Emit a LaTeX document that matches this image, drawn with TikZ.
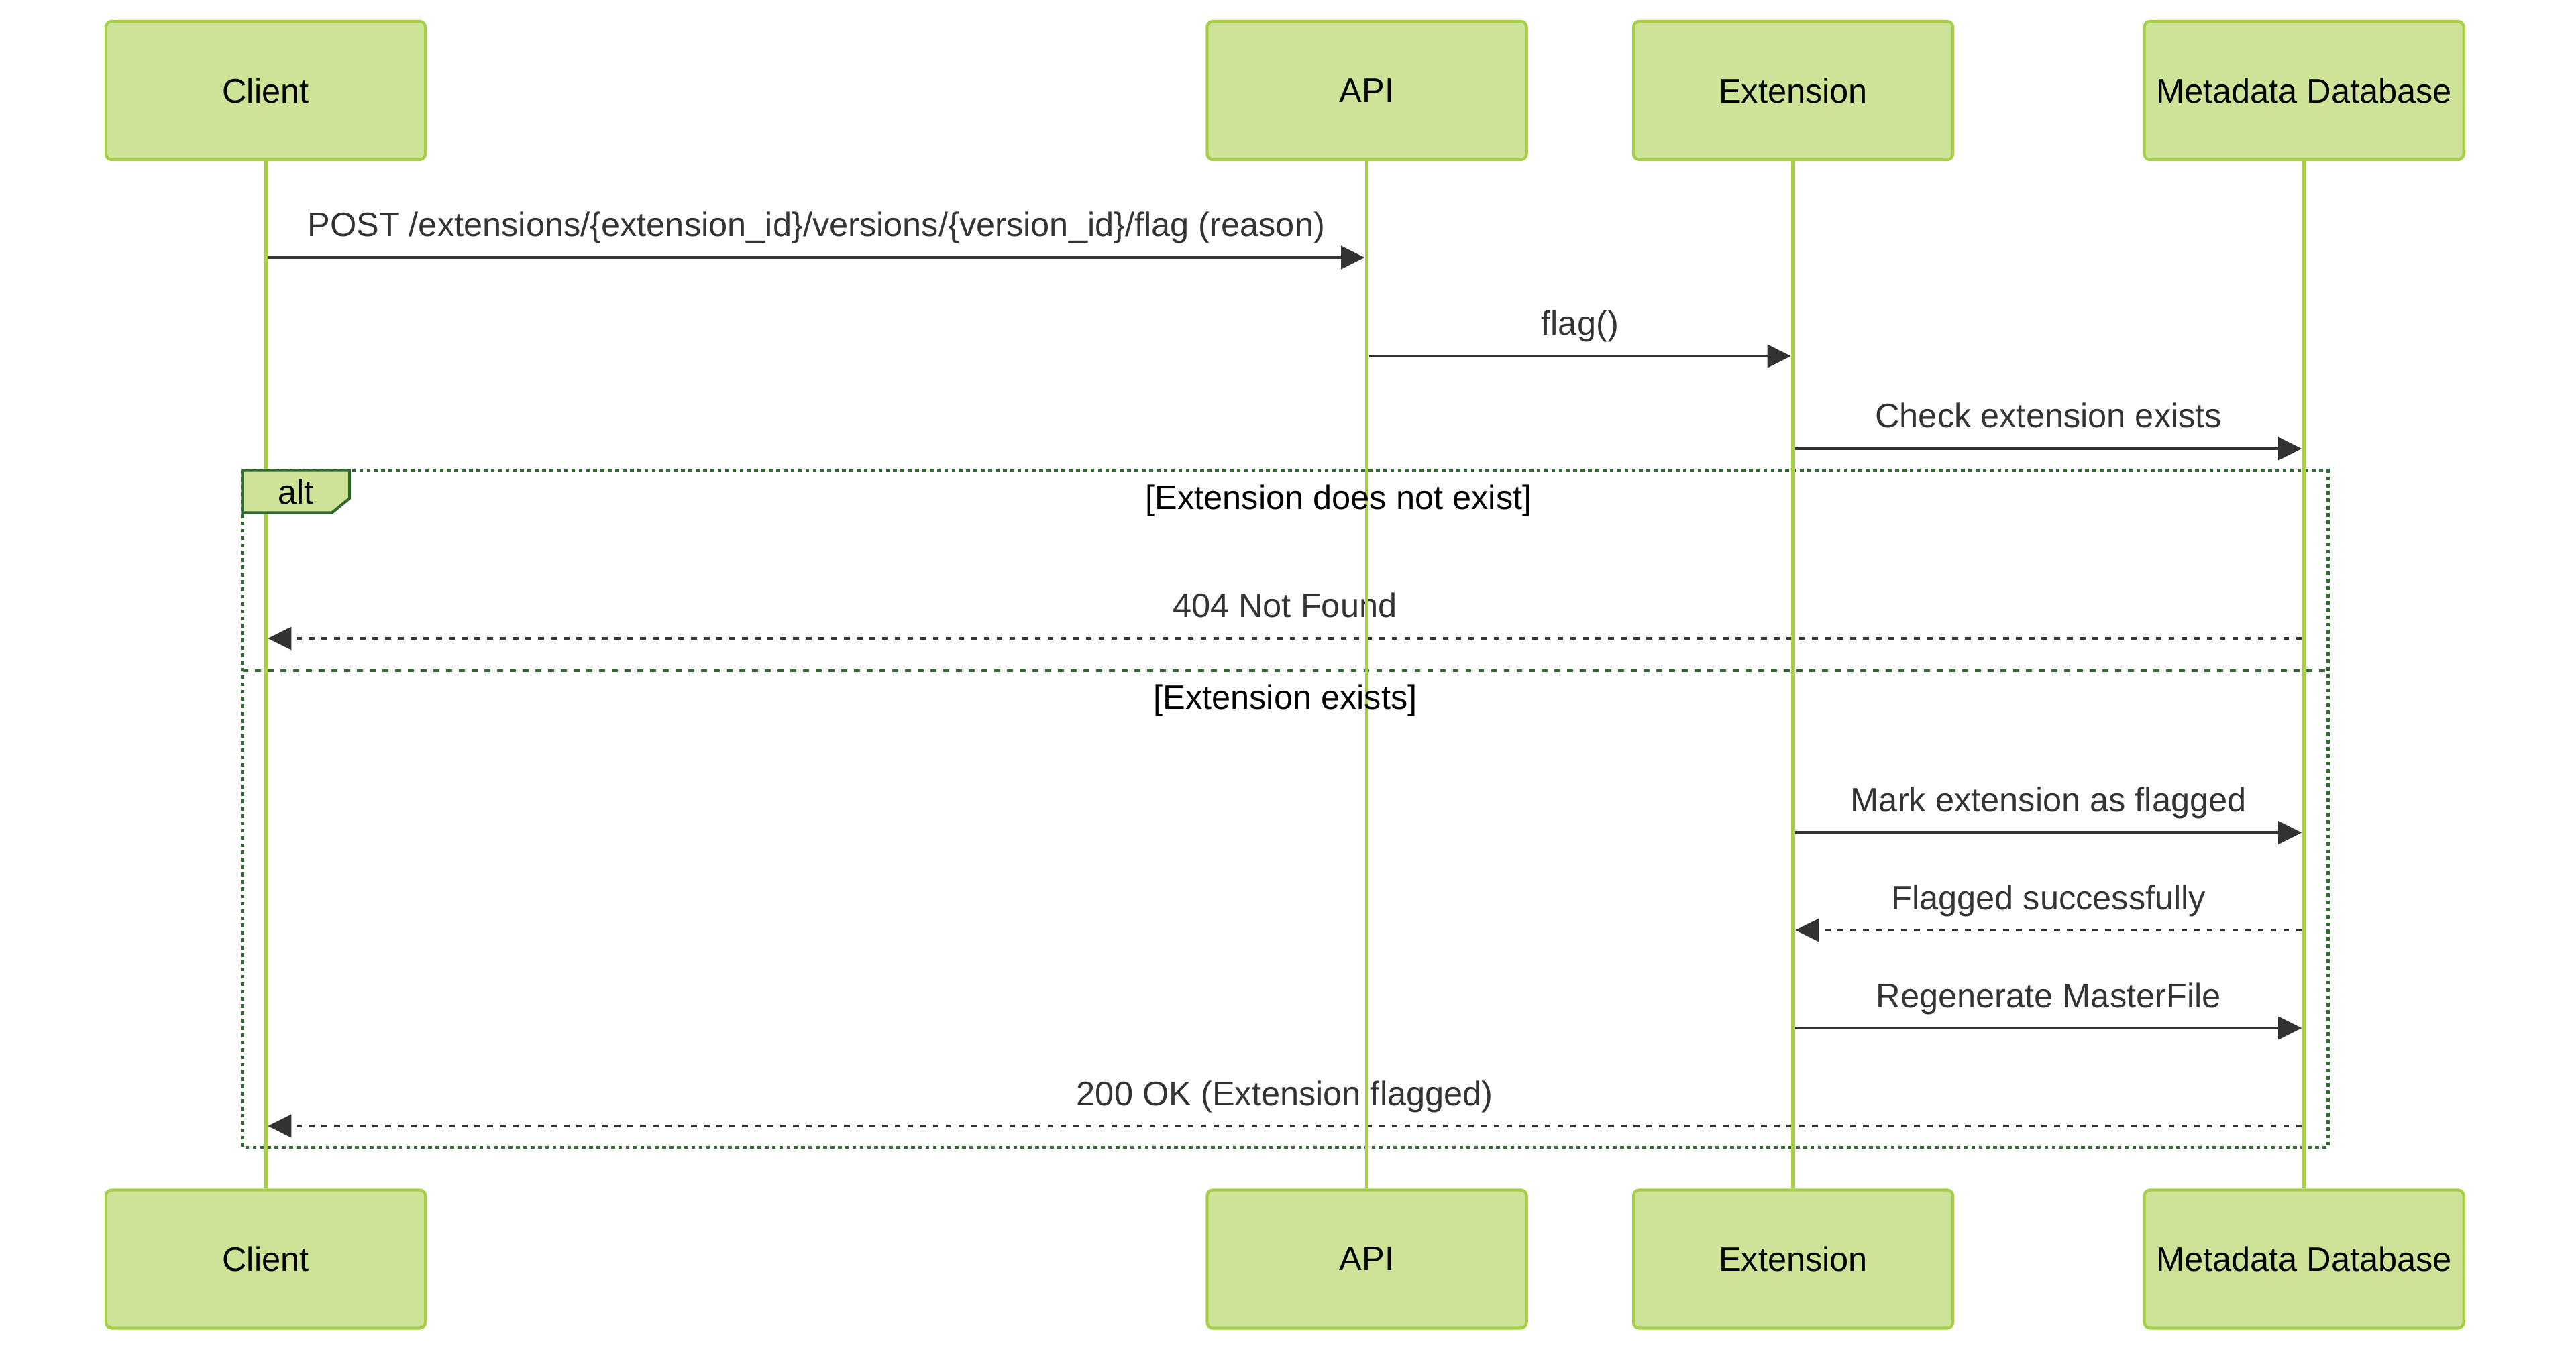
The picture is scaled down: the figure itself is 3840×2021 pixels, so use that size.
\documentclass[tikz,border=0pt]{standalone}
\usepackage{fontspec}
\setmainfont{Liberation Sans}
\usetikzlibrary{arrows.meta}
\definecolor{actorbg}{HTML}{CDE498}
\definecolor{actorline}{HTML}{A6CF47}
\definecolor{altline}{HTML}{326932}
\definecolor{signal}{HTML}{333333}
\begin{document}
\begin{tikzpicture}[x=0.01cm, y=-0.01cm, font=\fontsize{14.37pt}{17pt}\selectfont,
  actor/.style={draw=actorline, fill=actorbg, line width=1.2pt, rounded corners=2.5pt, minimum width=4.76cm, minimum height=2.06cm, inner sep=0pt},
  lifeline/.style={actorline, line width=1.5pt},
  sig/.style={signal, line width=1.35pt, shorten <=0.9pt, shorten >=0.9pt, -{Triangle[length=10pt,width=9.6pt]}},
  reply/.style={sig, dash pattern=on 2.4pt off 3pt},
  siglabel/.style={text=signal, anchor=base, yshift=0.31cm},
  frame/.style={altline, line width=1.4pt, dash pattern=on 1.6pt off 1.5pt},
  divider/.style={altline, line width=1.4pt, dash pattern=on 2.5pt off 2.9pt}]
\useasboundingbox (0,0) rectangle (3840,2021);
\foreach \name/\x/\txt in {client/396/Client, api/2037.5/API, ext/2673/Extension, mdb/3434.5/Metadata Database} {
  \node[actor] (\name) at (\x,135) {\txt};
  \node[actor] (\name-b) at (\x,1877.5) {\txt};
}
\foreach \from/\to/\y/\kind/\txt [count=\i] in {client/api/384/sig/{POST /extensions/\{extension\_id\}/versions/\{version\_id\}/flag (reason)}, api/ext/531/sig/{flag()}, ext/mdb/669/sig/{Check extension exists}, mdb/client/952/reply/{404 Not Found}, ext/mdb/1241.5/sig/{Mark extension as flagged}, mdb/ext/1387/reply/{Flagged successfully}, ext/mdb/1533/sig/{Regenerate MasterFile}, mdb/client/1679/reply/{200 OK (Extension flagged)}} {
  \coordinate (m\i) at (0,\y);
  \draw[\kind] (\from |- m\i) -- node[siglabel] {\txt} (\to |- m\i);
}
\coordinate (altnw) at (361.5,701.5);
\coordinate (altse) at (3470,1711);
\draw[frame] (altnw) rectangle (altse);
\draw[divider] (altnw |- 0,1000) -- (altse |- 0,1000);
\foreach \name in {client, api, ext, mdb}
  \draw[lifeline] (\name.south) -- (\name-b.north);
\draw[altline, line width=1.2pt, fill=actorbg] (altnw) -- ++(159.5,0) -- ++(0,41.5) -- ++(-26,21.5) -- ++(-133.5,0) -- cycle;
\node (alttag) at (441,733) {alt};
\node[anchor=base] (case1) at (1995.5,759) {[Extension does not exist]};
\node[anchor=base] (case2) at (1916,1057) {[Extension exists]};
\end{tikzpicture}
\end{document}
